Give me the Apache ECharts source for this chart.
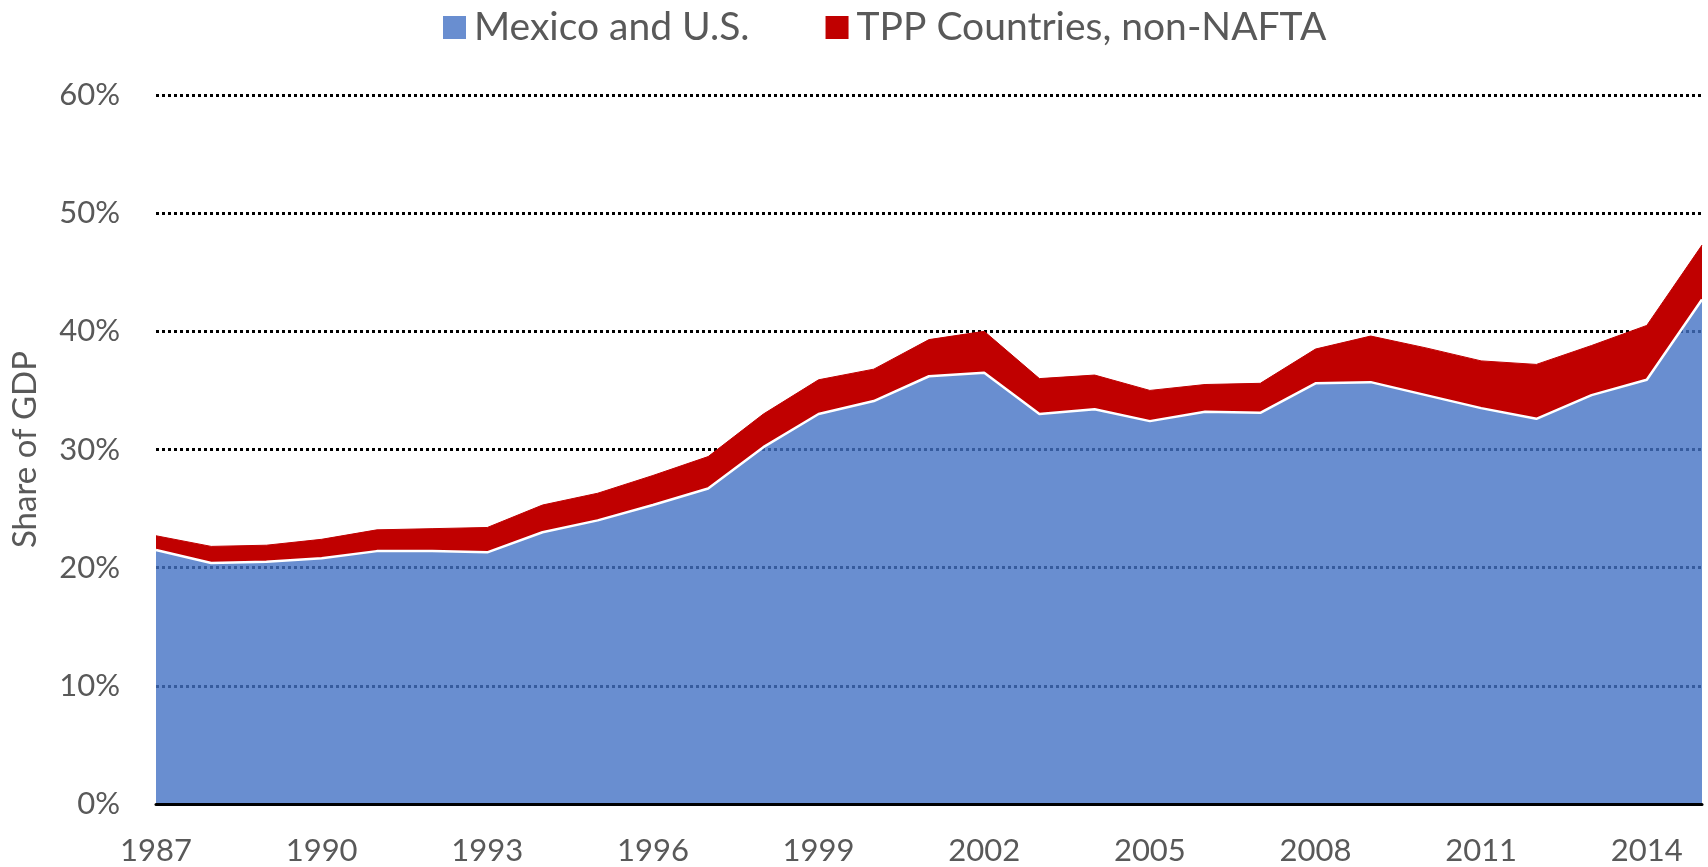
<!DOCTYPE html>
<html>
<head>
<meta charset="utf-8">
<title>Share of GDP</title>
<script src="https://cdn.jsdelivr.net/npm/echarts@6/dist/echarts.min.js"></script>
<style>
  html, body { margin: 0; padding: 0; background: #ffffff; }
  #chart { width: 1708px; height: 867px; }
</style>
</head>
<body>
<div id="chart"></div>
<script>
// years on the x axis
var years = [
  "1987", "1988", "1989", "1990", "1991", "1992", "1993", "1994", "1995", "1996",
  "1997", "1998", "1999", "2000", "2001", "2002", "2003", "2004", "2005", "2006",
  "2007", "2008", "2009", "2010", "2011", "2012", "2013", "2014", "2015"
];

// share of GDP, in percent
var mexicoUS = [
  21.5, 20.4, 20.5, 20.8, 21.4, 21.4, 21.3, 23.0, 24.0, 25.3,
  26.7, 30.2, 33.0, 34.1, 36.2, 36.5, 33.0, 33.4, 32.4, 33.2,
  33.1, 35.6, 35.7, 34.6, 33.5, 32.6, 34.6, 35.9, 42.7
];
var tppNonNafta = [
  1.2, 1.4, 1.4, 1.6, 1.8, 1.9, 2.1, 2.3, 2.3, 2.5,
  2.7, 2.8, 2.9, 2.7, 3.1, 3.5, 3.0, 2.9, 2.6, 2.3,
  2.5, 2.9, 3.9, 4.0, 4.0, 4.6, 4.2, 4.6, 4.6
];

var yTicks = { min: 0, max: 60, interval: 10 };

var textColor = "#595959";
var font = "Lato";

var chart = echarts.init(document.getElementById("chart"));

chart.setOption({
  animation: false,
  legend: {
    top: 3,
    left: 438,
    icon: "rect",
    itemWidth: 23,
    itemHeight: 23,
    itemGap: 76,
    textStyle: {
      fontFamily: font,
      fontSize: 39,
      color: textColor,
      padding: [0, 0, 0, 3]
    },
    data: ["Mexico and U.S.", "TPP Countries, non-NAFTA"]
  },
  grid: {
    left: 156,
    right: 6,
    top: 95,
    bottom: 63,
    outerBoundsMode: "none"
  },
  xAxis: {
    type: "category",
    data: years,
    boundaryGap: false,
    z: 10,
    axisLine: {
      lineStyle: { color: "#000000", width: 3 }
    },
    axisTick: { show: false },
    axisLabel: {
      interval: 2,
      margin: 31,
      fontFamily: font,
      fontSize: 31,
      color: textColor
    },
    splitLine: { show: false }
  },
  yAxis: {
    type: "value",
    min: yTicks.min,
    max: yTicks.max,
    interval: yTicks.interval,
    name: "Share of GDP",
    nameLocation: "middle",
    nameGap: 114,
    nameTextStyle: {
      fontFamily: font,
      fontSize: 33,
      color: textColor
    },
    axisLine: { show: false },
    axisTick: { show: false },
    axisLabel: {
      margin: 36,
      fontFamily: font,
      fontSize: 31,
      color: textColor,
      formatter: "{value}%"
    },
    splitLine: {
      lineStyle: {
        color: "#000000",
        width: 3,
        type: [3, 3]
      }
    }
  },
  series: [
    {
      name: "Mexico and U.S.",
      type: "line",
      stack: "gdp",
      data: mexicoUS,
      showSymbol: false,
      z: 3,
      itemStyle: { color: "rgba(68,114,196,0.8)" },
      lineStyle: { color: "#ffffff", width: 2.5 },
      areaStyle: { color: "rgba(68,114,196,0.8)", opacity: 1 }
    },
    {
      name: "TPP Countries, non-NAFTA",
      type: "line",
      stack: "gdp",
      data: tppNonNafta,
      showSymbol: false,
      z: 2,
      itemStyle: { color: "#c00000" },
      lineStyle: { color: "#c00000", width: 1 },
      areaStyle: { color: "#c00000", opacity: 1 }
    }
  ]
});
</script>
</body>
</html>
